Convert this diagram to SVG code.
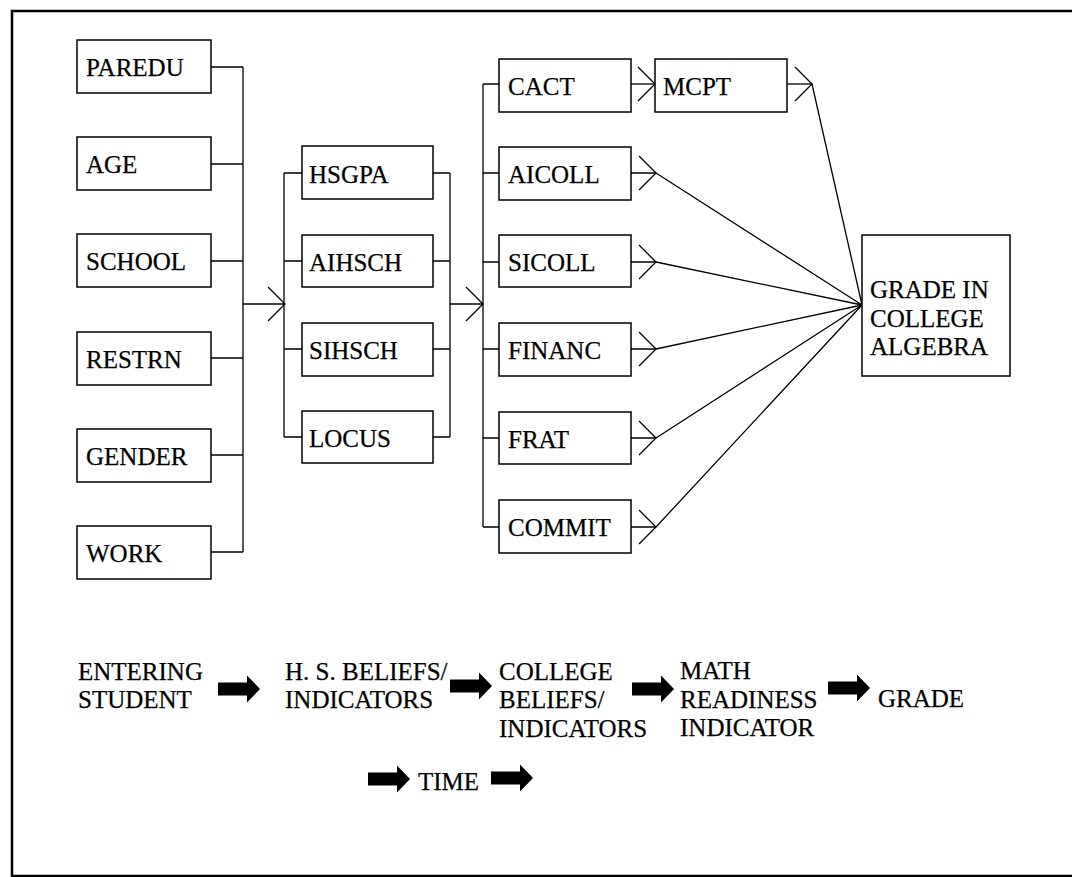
<svg xmlns="http://www.w3.org/2000/svg" width="1072" height="877" viewBox="0 0 1072 877">
<defs>
<style>
.box{fill:#fff;stroke:#000;stroke-width:1.5}
.ln{fill:none;stroke:#000;stroke-width:1.3}
.t{font-size:25px;fill:#000;stroke:#000;stroke-width:0.25}
.blk{fill:#000}
</style>
<path id="barrow" d="M0,-6.5 H29 V-13.5 L42,0 L29,13.5 V6.5 H0 Z"/>
<path id="chev" d="M-17,-17 L0,0 L-17,17"/>
</defs>
<rect width="1072" height="877" fill="#fff"/>
<rect x="12" y="11" width="1075" height="865" fill="none" stroke="#000" stroke-width="2.5"/>

<g id="connectors" class="ln">
<path d="M211,67 H243 M211,164 H243 M211,261 H243 M211,358 H243 M211,455 H243 M211,552 H243 M243,67 V552"/>
<path d="M243,304 H285"/>
<use href="#chev" x="285" y="304"/>
<path d="M284,173 V437 M284,173 H302 M284,261 H302 M284,349 H302 M284,437 H302"/>
<path d="M433,173 H450 M433,261 H450 M433,349 H450 M433,437 H450 M450,173 V437"/>
<path d="M450,304 H483"/>
<use href="#chev" x="483" y="304"/>
<path d="M483,84 V527 M483,84 H499 M483,173 H499 M483,262 H499 M483,349 H499 M483,438 H499 M483,527 H499"/>
<path d="M631,84 H655"/>
<use href="#chev" x="655" y="84"/>
<path d="M631,173 H656 M631,262 H656 M631,349 H656 M631,438 H656 M631,527 H656"/>
<use href="#chev" x="656" y="173"/>
<use href="#chev" x="656" y="262"/>
<use href="#chev" x="656" y="349"/>
<use href="#chev" x="656" y="438"/>
<use href="#chev" x="656" y="527"/>
<path d="M787,84 H812"/>
<use href="#chev" x="812" y="84"/>
<path d="M812,84 L862,305 M656,173 L862,305 M656,262 L862,305 M656,349 L862,305 M656,438 L862,305 M656,527 L862,305"/>
</g>

<g font-family="Liberation Serif, Times New Roman, serif">
<g id="paredu"><rect class="box" x="77" y="40" width="134" height="53"/><text class="t" x="86" y="76">PAREDU</text></g>
<g id="age"><rect class="box" x="77" y="137" width="134" height="53"/><text class="t" x="86" y="173">AGE</text></g>
<g id="school"><rect class="box" x="77" y="234" width="134" height="53"/><text class="t" x="86" y="270">SCHOOL</text></g>
<g id="restrn"><rect class="box" x="77" y="332" width="134" height="53"/><text class="t" x="86" y="368">RESTRN</text></g>
<g id="gender"><rect class="box" x="77" y="429" width="134" height="53"/><text class="t" x="86" y="465">GENDER</text></g>
<g id="work"><rect class="box" x="77" y="526" width="134" height="53"/><text class="t" x="86" y="562">WORK</text></g>

<g id="hsgpa"><rect class="box" x="302" y="146" width="131" height="53"/><text class="t" x="309" y="183">HSGPA</text></g>
<g id="aihsch"><rect class="box" x="302" y="235" width="131" height="52"/><text class="t" x="309" y="271">AIHSCH</text></g>
<g id="sihsch"><rect class="box" x="302" y="323" width="131" height="53"/><text class="t" x="309" y="359">SIHSCH</text></g>
<g id="locus"><rect class="box" x="302" y="411" width="131" height="52"/><text class="t" x="309" y="447">LOCUS</text></g>

<g id="cact"><rect class="box" x="499" y="59" width="132" height="53"/><text class="t" x="508" y="95">CACT</text></g>
<g id="aicoll"><rect class="box" x="499" y="147" width="132" height="53"/><text class="t" x="508" y="183">AICOLL</text></g>
<g id="sicoll"><rect class="box" x="499" y="235" width="132" height="52"/><text class="t" x="508" y="271">SICOLL</text></g>
<g id="financ"><rect class="box" x="499" y="323" width="132" height="53"/><text class="t" x="508" y="359">FINANC</text></g>
<g id="frat"><rect class="box" x="499" y="412" width="132" height="52"/><text class="t" x="508" y="448">FRAT</text></g>
<g id="commit"><rect class="box" x="499" y="500" width="132" height="53"/><text class="t" x="508" y="536">COMMIT</text></g>

<g id="mcpt"><rect class="box" x="655" y="59" width="132" height="53"/><text class="t" x="663" y="95">MCPT</text></g>

<g id="grade"><rect class="box" x="862" y="235" width="148" height="141"/>
<text class="t" x="870" y="298">GRADE IN</text>
<text class="t" x="870" y="327">COLLEGE</text>
<text class="t" x="870" y="355">ALGEBRA</text></g>

<g id="timeline">
<text class="t" x="78" y="680">ENTERING</text>
<text class="t" x="78" y="708">STUDENT</text>
<use class="blk" href="#barrow" x="218" y="689"/>
<text class="t" x="285" y="680">H. S. BELIEFS/</text>
<text class="t" x="285" y="708">INDICATORS</text>
<use class="blk" href="#barrow" x="450" y="686"/>
<text class="t" x="499" y="680">COLLEGE</text>
<text class="t" x="499" y="708">BELIEFS/</text>
<text class="t" x="499" y="737">INDICATORS</text>
<use class="blk" href="#barrow" x="632" y="689"/>
<text class="t" x="680" y="679">MATH</text>
<text class="t" x="680" y="708">READINESS</text>
<text class="t" x="680" y="736">INDICATOR</text>
<use class="blk" href="#barrow" x="828" y="688"/>
<text class="t" x="878" y="707">GRADE</text>
<use class="blk" href="#barrow" x="368" y="779"/>
<text class="t" x="418" y="790">TIME</text>
<use class="blk" href="#barrow" x="491" y="778"/>
</g>
</g>
</svg>
